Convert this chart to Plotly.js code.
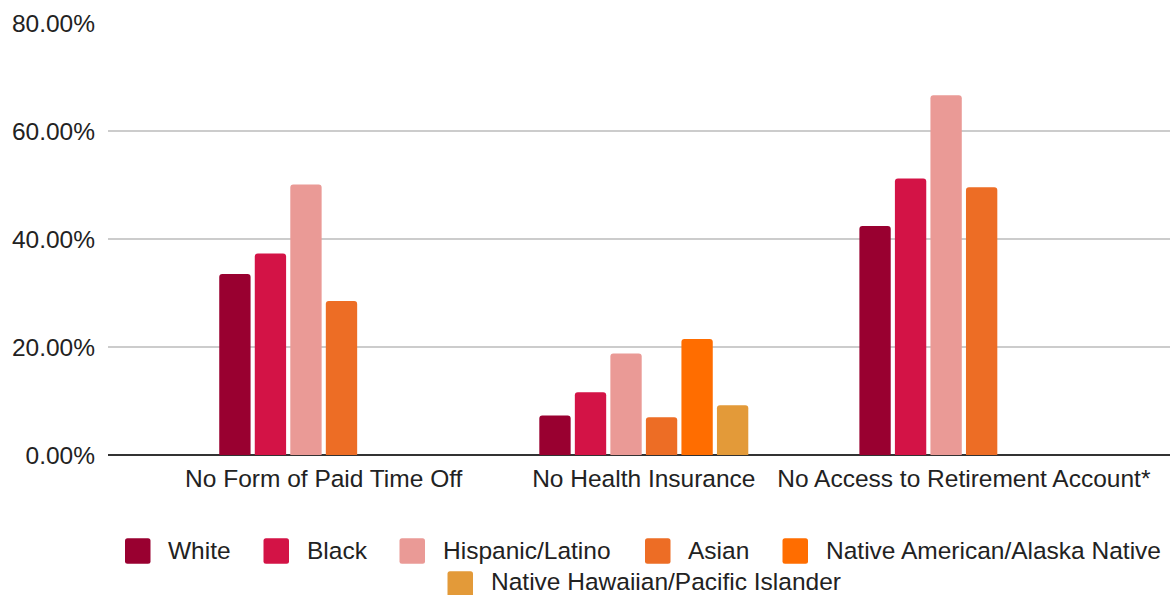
<!DOCTYPE html>
<html>
<head>
<meta charset="utf-8">
<script src="https://cdn.plot.ly/plotly-3.0.1.min.js"></script>
<style>html,body{margin:0;padding:0;background:#fff;}#chart{width:1170px;height:595px;}</style>
</head>
<body>
<div id="chart"></div>
<script>
const categories = ["No Form of Paid Time Off", "No Health Insurance", "No Access to Retirement Account*"];
const seriesNames = ["White", "Black", "Hispanic/Latino", "Asian", "Native American/Alaska Native", "Native Hawaiian/Pacific Islander"];
const white = [0.335, 0.073, 0.424];
const black = [0.373, 0.116, 0.512];
const hispanic = [0.501, 0.188, 0.666];
const asian = [0.285, 0.070, 0.496];
const nativeAmerican = [null, 0.215, null];
const nativeHawaiian = [null, 0.092, null];
const colors = ["#990030", "#d31346", "#ea9a96", "#ed6d25", "#ff6d00", "#e39a39"];

const seriesValues = [white, black, hispanic, asian, nativeAmerican, nativeHawaiian];
const traces = seriesValues.map((vals, i) => ({
  type: "bar",
  name: seriesNames[i],
  x: categories,
  y: vals,
  marker: {color: colors[i], cornerradius: 3},
  showlegend: false,
  hoverinfo: "name+y"
}));

// Plot area geometry (pixels) used to place the custom legend
const M = {l: 108, r: 0, t: 23, b: 140};
const W = 1170, H = 595;
const pw = W - M.l - M.r, ph = H - M.t - M.b;
const px2x = p => (p - M.l) / pw;
const py2y = p => (H - M.b - p) / ph;

// legend entry layout: left edge of swatch, swatch centre and text centre (pixels)
const legendSlots = [
  {sx: 125, cy: 551, ty: 550}, {sx: 263.5, cy: 551, ty: 550}, {sx: 399.5, cy: 551, ty: 550},
  {sx: 645, cy: 551, ty: 550}, {sx: 782.5, cy: 551, ty: 550}, {sx: 447.5, cy: 584, ty: 581}
];
const sw = 25.5, rad = 2.5, textOffset = 42;

function roundRect(x0, y0, x1, y1, r) {
  const X = px2x, Y = py2y;
  return `M${X(x0 + r)},${Y(y0)} L${X(x1 - r)},${Y(y0)} Q${X(x1)},${Y(y0)} ${X(x1)},${Y(y0 + r)} ` +
         `L${X(x1)},${Y(y1 - r)} Q${X(x1)},${Y(y1)} ${X(x1 - r)},${Y(y1)} ` +
         `L${X(x0 + r)},${Y(y1)} Q${X(x0)},${Y(y1)} ${X(x0)},${Y(y1 - r)} ` +
         `L${X(x0)},${Y(y0 + r)} Q${X(x0)},${Y(y0)} ${X(x0 + r)},${Y(y0)} Z`;
}

const shapes = [];
const annotations = [];
seriesNames.forEach((name, i) => {
  const s = legendSlots[i];
  shapes.push({
    type: "path", xref: "paper", yref: "paper",
    path: roundRect(s.sx, s.cy - sw / 2, s.sx + sw, s.cy + sw / 2, rad),
    fillcolor: colors[i], line: {width: 0}
  });
  annotations.push({
    xref: "paper", yref: "paper",
    x: px2x(s.sx + textOffset), y: py2y(s.ty),
    xanchor: "left", yanchor: "middle",
    text: name, showarrow: false, borderpad: 0,
    font: {family: "Liberation Sans, Arial, sans-serif", size: 24.5, color: "#222"}
  });
});

const layout = {
  width: W, height: H,
  margin: M,
  paper_bgcolor: "#fff", plot_bgcolor: "#fff",
  barmode: "group",
  bargap: 0.334,
  bargroupgap: 0.118,
  showlegend: false,
  font: {family: "Liberation Sans, Arial, sans-serif", color: "#222"},
  xaxis: {
    type: "category",
    range: [-0.674, 2.644],
    tickfont: {size: 24.5, color: "#222"},
    showgrid: false,
    showline: false,
    ticks: "",
    zeroline: false,
    ticklabelstandoff: 6,
    fixedrange: true
  },
  yaxis: {
    range: [0, 0.8],
    tickvals: [0, 0.2, 0.4, 0.6, 0.8],
    tickformat: ".2%",
    tickfont: {size: 24.5, color: "#222"},
    gridcolor: "#cccccc",
    gridwidth: 1.5,
    zeroline: true,
    zerolinecolor: "#333",
    zerolinewidth: 1.5,
    ticklabelstandoff: 12,
    fixedrange: true
  },
  shapes: shapes,
  annotations: annotations
};

Plotly.newPlot("chart", traces, layout, {displayModeBar: false, responsive: false});
</script>
</body>
</html>
